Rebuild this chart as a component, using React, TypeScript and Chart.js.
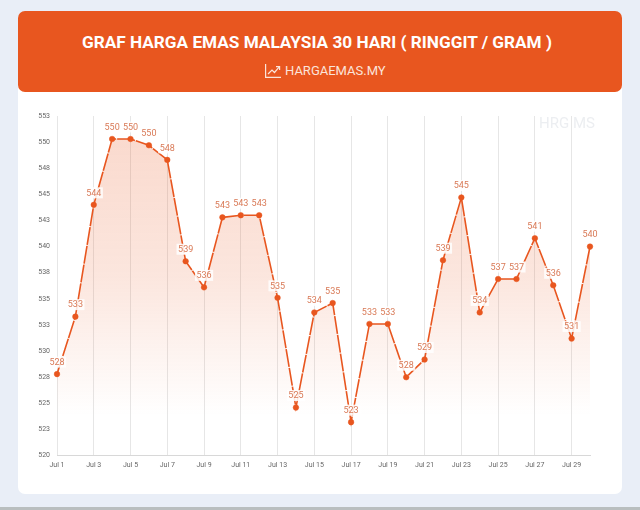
import React, { useEffect, useRef } from "react";
import { Chart, registerables } from "chart.js";

Chart.register(...registerables);

const days = [
  "Jul 1", "Jul 2", "Jul 3", "Jul 4", "Jul 5", "Jul 6", "Jul 7", "Jul 8", "Jul 9", "Jul 10",
  "Jul 11", "Jul 12", "Jul 13", "Jul 14", "Jul 15", "Jul 16", "Jul 17", "Jul 18", "Jul 19", "Jul 20",
  "Jul 21", "Jul 22", "Jul 23", "Jul 24", "Jul 25", "Jul 26", "Jul 27", "Jul 28", "Jul 29", "Jul 30",
];
const prices = [
  527.8, 533.3, 544.0, 550.3, 550.3, 549.7, 548.3, 538.6, 536.1, 542.8,
  543.0, 543.0, 535.1, 524.6, 533.7, 534.6, 523.2, 532.6, 532.6, 527.5,
  529.2, 538.7, 544.7, 533.7, 536.9, 536.9, 540.8, 536.3, 531.2, 540.0,
];
const titleText = "GRAF HARGA EMAS MALAYSIA 30 HARI ( RINGGIT / GRAM )";
const siteText = "HARGAEMAS.MY";
const watermarkText = "HRG MS";

const ORANGE = "#e8561f";
const FONT = "Roboto, sans-serif";

const overlayPlugin = {
  id: "overlay",
  beforeDatasetsDraw(chart: any) {
    const { ctx, chartArea } = chart;
    ctx.save();
    ctx.font = `15px ${FONT}`;
    ctx.fillStyle = "#eceef1";
    ctx.textAlign = "right";
    ctx.textBaseline = "middle";
    ctx.fillText(watermarkText, chartArea.right + 5, chartArea.top + 8);
    ctx.restore();
  },
  afterDatasetsDraw(chart: any) {
    const { ctx } = chart;
    const meta = chart.getDatasetMeta(0);
    ctx.save();
    ctx.font = `9px ${FONT}`;
    ctx.textAlign = "center";
    ctx.textBaseline = "middle";
    meta.data.forEach((pt: any, i: number) => {
      const label = String(Math.round(prices[i]));
      const w = ctx.measureText(label).width + 3;
      const cy = pt.y - 12;
      ctx.fillStyle = "rgba(255,255,255,0.85)";
      ctx.fillRect(pt.x - w / 2, cy - 5.5, w, 11);
      ctx.fillStyle = "#d97a57";
      ctx.fillText(label, pt.x, cy + 0.5);
    });
    ctx.restore();
  },
};

export default function App() {
  const ref = useRef<HTMLCanvasElement | null>(null);

  useEffect(() => {
    if (!ref.current) return;
    const chart = new Chart(ref.current, {
      type: "line",
      data: {
        labels: days,
        datasets: [
          {
            data: prices,
            borderColor: ORANGE,
            borderWidth: 1.6,
            borderDash: [18, 1],
            tension: 0,
            pointRadius: 2.8,
            pointBackgroundColor: ORANGE,
            pointBorderColor: ORANGE,
            pointBorderWidth: 0.5,
            clip: false,
            fill: "origin",
            backgroundColor: (c: any) => {
              const area = c.chart.chartArea;
              if (!area) return "rgba(232,86,31,0.2)";
              const g = c.chart.ctx.createLinearGradient(0, area.top + 20, 0, area.bottom - 40);
              g.addColorStop(0, "rgba(232,86,31,0.22)");
              g.addColorStop(0.5, "rgba(232,86,31,0.15)");
              g.addColorStop(1, "rgba(232,86,31,0)");
              return g;
            },
          } as any,
        ],
      },
      options: {
        animation: false,
        responsive: false,
        layout: { padding: { top: 24, right: 32, bottom: 20, left: 0 } },
        plugins: { legend: { display: false }, tooltip: { enabled: false } },
        scales: {
          x: {
            offset: false,
            grid: {
              color: (c: any) => (c.index % 2 === 0 ? "#e6e6e6" : "rgba(0,0,0,0)"),
              drawTicks: false,
            },
            border: { color: "#d8d8d8" },
            ticks: {
              autoSkip: false,
              maxRotation: 0,
              padding: 5,
              color: "#666666",
              font: { family: FONT, size: 7 },
              callback: (_v: any, i: number) => (i % 2 === 0 ? days[i] : ""),
            },
          },
          y: {
            min: 520,
            max: 552.5,
            afterFit: (s: any) => {
              s.width = 39;
            },
            grid: { display: false, drawTicks: false },
            border: { display: false },
            ticks: {
              stepSize: 2.5,
              padding: 7,
              color: "#666666",
              font: { family: FONT, size: 7 },
              callback: (v: any) => String(Math.round(Number(v) + 0.001)),
            },
          },
        },
      },
      plugins: [overlayPlugin],
    } as any);
    return () => chart.destroy();
  }, []);

  return (
    <div style={{ position: "fixed", inset: 0, width: 640, height: 510, background: "#e9eef7", overflow: "hidden", fontFamily: FONT }}>
      <div style={{ position: "absolute", left: 0, top: 507, width: 640, height: 3, background: "#b9bebf" }} />
      <div style={{ position: "absolute", left: 18, top: 40, width: 604, height: 454, background: "#ffffff", borderRadius: 7 }}>
        <canvas ref={ref} width={604} height={402} style={{ position: "absolute", left: 0, top: 52, display: "block" }} />
      </div>
      <div style={{ position: "absolute", left: 18, top: 11, width: 604, height: 81, background: ORANGE, borderRadius: 7, color: "#fff" }}>
        <div style={{ position: "absolute", left: -6, right: 0, top: 19, textAlign: "center", fontWeight: 700, fontSize: 17.2, lineHeight: "24px", whiteSpace: "nowrap" }}>
          {titleText}
        </div>
        <div style={{ position: "absolute", left: 267, top: 52, fontSize: 13, lineHeight: "16px", whiteSpace: "nowrap", color: "#fbe4da" }}>
          {siteText}
        </div>
        <svg width="16" height="14" viewBox="0 0 16 14" style={{ position: "absolute", left: 247, top: 53 }} fill="none" stroke="#fbe4da" strokeWidth="1.2">
          <path d="M0.6 0 V13.4 H16" />
          <path d="M3 10 L7 6 L9.5 8.5 L14 3.2" />
          <path d="M11 2.6 H14.6 V6" />
        </svg>
      </div>
    </div>
  );
}
